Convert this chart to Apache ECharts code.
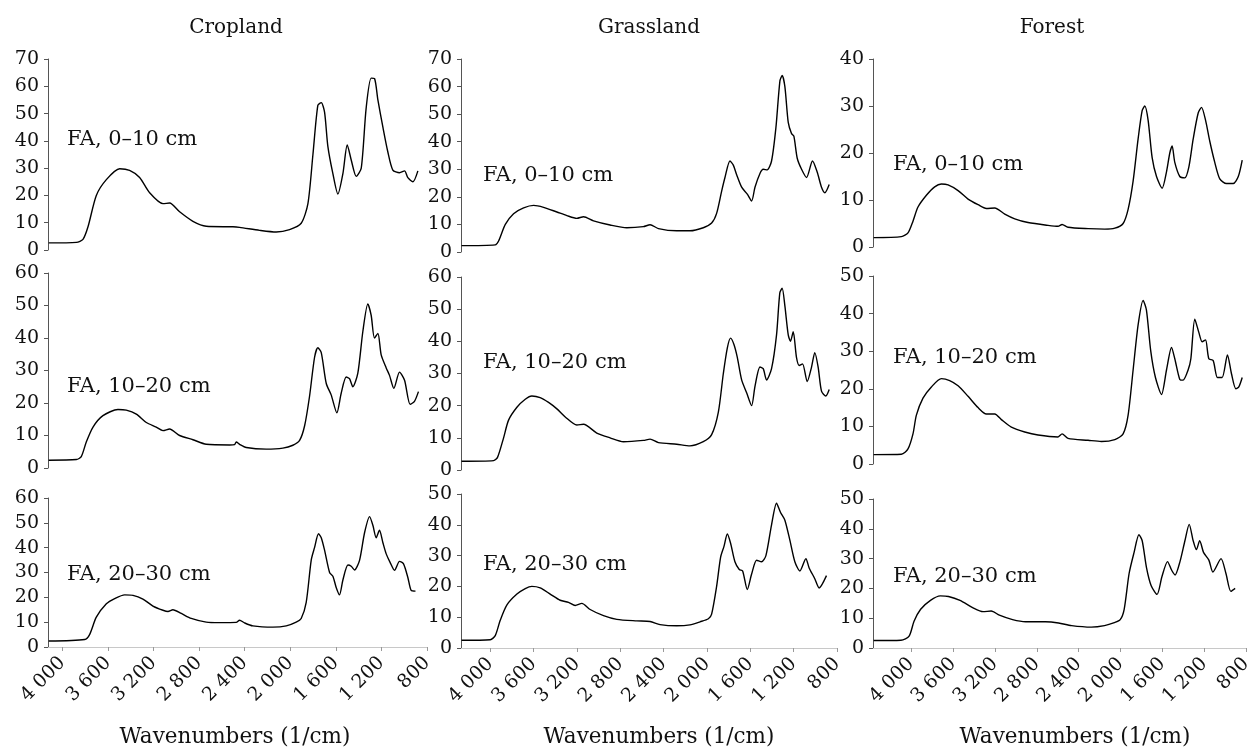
<!DOCTYPE html>
<html><head><meta charset="utf-8">
<script src="https://cdn.jsdelivr.net/npm/echarts@6/dist/echarts.min.js"></script>
<style>html,body{margin:0;padding:0;background:#fff}#c{width:1255px;height:752px}</style>
</head><body><div id="c"></div>
<script>
// ---------- data ----------
const columns = ['Cropland', 'Grassland', 'Forest'];
const depths = ['FA, 0\u201310 cm', 'FA, 10\u201320 cm', 'FA, 20\u201330 cm'];
const xTickLabels = [4000, 3600, 3200, 2800, 2400, 2000, 1600, 1200, 800];
const xAxisLabel = 'Wavenumbers (1/cm)';
// y-axis maxima [row 0-10, 10-20, 20-30] per column
const yMaxCropland = [70, 60, 60];
const yMaxGrassland = [70, 60, 50];
const yMaxForest = [40, 50, 50];
// wavenumber at the left end of each column's axis
const xStartCropland = 4126, xStartGrassland = 4270, xStartForest = 4364;

// [wavenumber, intensity]
const cropland_0_10 = [[4120,2.6],[3877,2.8],[3819,3.9],[3775,8.5],[3702,20],[3614,25.8],[3497,29.8],[3410,29.2],[3322,26.6],[3234,21],[3117,17],[3059,17.2],[2971,14],[2854,10.5],[2737,8.7],[2503,8.5],[2445,8.3],[2269,7.2],[2123,6.6],[2006,7.5],[1904,9.8],[1845,17],[1801,35],[1758,53],[1728,54],[1699,50.5],[1670,38],[1626,28],[1582,20.5],[1538,28],[1500,38.5],[1465,33],[1421,27],[1377,30],[1334,52],[1290,63],[1260,62.8],[1231,55],[1187,45],[1144,36],[1100,29.3],[1041,28.3],[997,29],[968,26.5],[924,25],[880,29]];
const cropland_10_20 = [[4120,2.4],[3877,2.6],[3834,3.5],[3790,8],[3731,12.6],[3644,16.1],[3512,18],[3439,17.8],[3351,16.6],[3263,14],[3176,12.6],[3117,11.5],[3059,12],[2971,10],[2854,8.7],[2737,7.3],[2532,7.1],[2489,7.2],[2474,8],[2445,7.3],[2386,6.3],[2211,5.8],[2065,6.1],[1977,7],[1918,8.5],[1874,13],[1831,22],[1787,34],[1758,37],[1728,35.5],[1684,26],[1641,22.5],[1591,17],[1553,23],[1509,28],[1480,27.5],[1451,25],[1407,29.2],[1363,42],[1319,50.5],[1290,47],[1261,40],[1231,41.4],[1202,34.8],[1158,30.8],[1129,28.5],[1091,24.5],[1041,29.5],[997,27],[948,19.6],[910,20.5],[875,23.5]];
const cropland_20_30 = [[4120,2.4],[3804,3],[3761,5],[3702,12],[3614,17.4],[3541,19.5],[3453,21],[3380,20.8],[3293,19.3],[3205,16.5],[3117,14.8],[3073,14.3],[3030,15],[2956,13.5],[2869,11.5],[2737,10],[2620,9.8],[2474,9.9],[2445,10.8],[2401,9.7],[2328,8.5],[2152,8],[2035,8.5],[1948,10],[1904,11.5],[1860,18],[1816,35],[1787,40],[1752,45.6],[1728,44],[1699,39],[1655,30],[1626,28.5],[1597,24],[1568,21],[1538,27],[1494,33],[1465,32.5],[1436,31],[1392,34.9],[1348,46],[1304,52.5],[1275,49],[1246,44],[1217,47],[1187,42],[1158,37.5],[1123,34],[1085,30.9],[1041,34.5],[1006,33.5],[968,28],[939,22.8],[901,22.5]];

const grassland_0_10 = [[4265,2.3],[3954,2.6],[3923,4],[3861,10],[3785,13.9],[3692,16],[3600,16.9],[3508,16.2],[3385,14.5],[3293,13.2],[3201,12.2],[3139,12.8],[3047,11.3],[2894,9.8],[2740,8.8],[2587,9.2],[2525,9.9],[2448,8.5],[2279,7.7],[2157,7.7],[2034,8.8],[1957,10.5],[1911,14],[1865,22],[1834,27],[1788,33],[1757,31.5],[1726,28],[1680,23.5],[1628,21],[1588,18.5],[1557,23.5],[1511,28.5],[1481,30],[1444,29.8],[1404,33],[1364,45],[1327,62],[1306,64],[1281,60],[1250,47],[1220,43],[1198,42],[1167,34],[1127,30],[1081,27],[1026,33],[983,29],[943,23.5],[912,21.5],[872,24.5]];
const grassland_10_20 = [[4265,2.7],[3969,2.9],[3932,4],[3877,10],[3831,15.5],[3754,19.5],[3677,22],[3616,23],[3539,22.5],[3462,21],[3385,19],[3308,16.5],[3201,14],[3139,14.2],[3017,11.5],[2894,10],[2771,8.8],[2587,9.2],[2525,9.6],[2448,8.5],[2279,8],[2157,7.5],[2034,8.8],[1957,11],[1895,18],[1849,30],[1812,38],[1782,41],[1751,39],[1720,35],[1680,28],[1634,24],[1588,20],[1557,26],[1511,32],[1481,31.5],[1450,28],[1404,31.5],[1358,42],[1328,55],[1306,56.5],[1281,51],[1250,42],[1229,40],[1204,43],[1174,35],[1149,32.5],[1118,33],[1075,27.5],[1035,32],[1005,36.5],[974,32],[943,24.5],[903,23],[872,25]];
const grassland_20_30 = [[4265,2.5],[4000,2.7],[3954,4],[3908,9],[3846,14],[3754,17.5],[3677,19.3],[3616,20],[3539,19.5],[3447,17.5],[3355,15.5],[3278,14.8],[3216,13.8],[3155,14.5],[3078,12.5],[2955,10.5],[2832,9.3],[2648,8.8],[2525,8.6],[2433,7.6],[2279,7.2],[2157,7.5],[2064,8.5],[1987,9.5],[1957,11],[1911,20],[1874,29.5],[1843,33],[1812,37],[1782,34],[1742,28],[1702,25.5],[1671,25],[1628,19],[1588,24],[1542,28.5],[1496,28],[1456,30],[1404,40],[1358,47],[1321,44],[1281,41.5],[1235,35],[1189,28],[1143,25],[1087,29],[1057,26],[1005,22.5],[965,19.5],[897,23.5]];

const forest_0_10 = [[4358,2],[4097,2.2],[4035,3],[3988,5.5],[3941,8.5],[3862,11],[3784,12.8],[3721,13.4],[3658,13.2],[3564,12],[3470,10.2],[3376,9],[3298,8.2],[3219,8.3],[3125,7],[3031,6],[2906,5.2],[2718,4.6],[2624,4.4],[2586,4.8],[2530,4.2],[2341,3.9],[2185,3.8],[2090,4],[2012,5],[1965,8],[1918,14],[1871,23],[1833,29],[1808,30],[1777,27],[1739,19],[1698,15],[1645,12.5],[1604,16],[1573,20],[1551,21.5],[1526,18],[1479,15],[1432,14.7],[1394,17],[1353,23],[1306,28.5],[1275,29.7],[1237,27],[1197,22.5],[1150,18],[1103,14.5],[1040,13.5],[977,13.5],[929,15],[892,18.5]];
const forest_10_20 = [[4358,2.5],[4097,2.6],[4035,4],[3988,8],[3956,13],[3894,17.5],[3815,20.5],[3721,22.7],[3643,22.2],[3564,20.8],[3470,18],[3376,15],[3298,13.3],[3219,13.3],[3157,11.8],[3063,9.8],[2937,8.5],[2812,7.7],[2624,7.2],[2586,8],[2530,6.8],[2341,6.3],[2216,6],[2090,6.5],[2012,8],[1965,13],[1918,25],[1871,37],[1824,43.5],[1793,41],[1752,30],[1708,23],[1651,18.5],[1604,25],[1557,31],[1526,28],[1479,22.5],[1448,22.3],[1401,25],[1375,28],[1338,38.5],[1300,35],[1269,32.5],[1237,33],[1206,28],[1165,27.5],[1125,23],[1081,23],[1031,29],[993,24],[952,20],[924,20.5],[892,23]];
const forest_20_30 = [[4358,2.5],[4097,2.6],[4019,4],[3972,9],[3909,13],[3815,16],[3721,17.5],[3643,17.3],[3533,16],[3408,13.5],[3313,12.2],[3235,12.4],[3157,11],[3031,9.5],[2906,8.8],[2718,8.8],[2592,8.4],[2467,7.5],[2279,7],[2153,7.5],[2059,8.5],[2003,9.5],[1965,13],[1918,25],[1871,32],[1824,38],[1793,36],[1752,27],[1708,21],[1651,18],[1604,24],[1551,29],[1510,26],[1479,24.5],[1432,29],[1385,36],[1344,41.5],[1306,36],[1275,33],[1244,36],[1206,32],[1156,29.5],[1118,25.5],[1040,30],[993,25],[946,19],[905,20]];

// ---------- layout ----------
const SERIF = '"DejaVu Serif", "Liberation Serif", serif';
const colLeft = [48, 461, 873];
const colWidth = [379, 376, 379];
const rowBox = [
  [[59,191],[273,195],[498,149]],
  [[59,193],[277,193],[494,154]],
  [[59,188],[276,188],[499,149]]
];
const xStarts = [xStartCropland, xStartGrassland, xStartForest];
const yMaxes = [yMaxCropland, yMaxGrassland, yMaxForest];
const seriesData = [
  [cropland_0_10, cropland_10_20, cropland_20_30],
  [grassland_0_10, grassland_10_20, grassland_20_30],
  [forest_0_10, forest_10_20, forest_20_30]
];
const labelPos = [
  [[67,140],[67,387],[67,575]],
  [[483,176],[483,363],[483,565]],
  [[893,165],[893,358],[893,577]]
];
const titleX = [236, 649, 1052];
const xNameX = [235, 659, 1075];

const grid = [], xAxis = [], yAxis = [], series = [], graphic = [];
let k = 0;
for (let c = 0; c < 3; c++) {
  for (let r = 0; r < 3; r++) {
    const bottom = r === 2;
    grid.push({left: colLeft[c], width: colWidth[c], top: rowBox[c][r][0], height: rowBox[c][r][1], containLabel: false});
    xAxis.push({
      type: 'value', gridIndex: k, inverse: true, min: 800, max: xStarts[c],
      splitLine: {show: false},
      axisLine: {show: bottom, lineStyle: {color: '#c8c8c8', width: 1}},
      axisTick: {show: bottom, customValues: xTickLabels, length: 4, lineStyle: {color: '#999'}},
      axisLabel: {show: bottom, customValues: xTickLabels, rotate: 45, margin: 13, showMinLabel: true, showMaxLabel: true,
        fontFamily: SERIF, fontSize: 19, color: '#111',
        formatter: v => v >= 1000 ? Math.floor(v/1000) + ' ' + String(v % 1000).padStart(3, '0') : String(v)}
    });
    yAxis.push({
      type: 'value', gridIndex: k, min: 0, max: yMaxes[c][r], interval: 10,
      splitLine: {show: false},
      axisLine: {show: true, lineStyle: {color: '#555', width: 1}},
      axisTick: {show: true, length: 4, lineStyle: {color: '#555'}},
      axisLabel: {margin: 9, fontFamily: SERIF, fontSize: 19, color: '#111'}
    });
    series.push({
      type: 'line', xAxisIndex: k, yAxisIndex: k, data: seriesData[c][r],
      showSymbol: false, smooth: 0.25, silent: true,
      lineStyle: {color: '#000', width: 1.4}
    });
    graphic.push({type: 'text', x: labelPos[c][r][0], y: labelPos[c][r][1],
      style: {text: depths[r], font: '21px ' + SERIF, fill: '#111', verticalAlign: 'middle', textVerticalAlign: 'middle'}});
    k++;
  }
  graphic.push({type: 'text', x: titleX[c], y: 28,
    style: {text: columns[c], font: '20px ' + SERIF, fill: '#111', align: 'center', textAlign: 'center', verticalAlign: 'middle', textVerticalAlign: 'middle'}});
  graphic.push({type: 'text', x: xNameX[c], y: 737,
    style: {text: xAxisLabel, font: '21.5px ' + SERIF, fill: '#111', align: 'center', textAlign: 'center', verticalAlign: 'middle', textVerticalAlign: 'middle'}});
}

const chart = echarts.init(document.getElementById('c'), null, {renderer: 'canvas'});
chart.setOption({animation: false, backgroundColor: '#fff', grid, xAxis, yAxis, series, graphic});
</script></body></html>
